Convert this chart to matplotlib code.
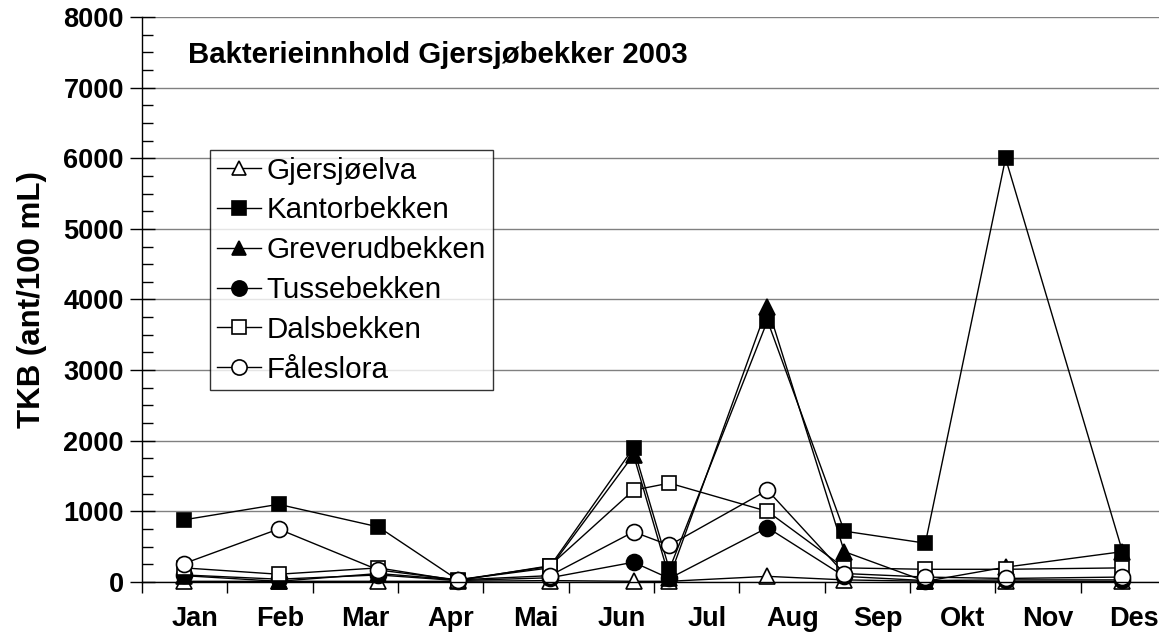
import matplotlib
matplotlib.use("Agg")
import matplotlib.pyplot as plt
import numpy as np

plt.rcParams['font.family'] = ['Liberation Sans', 'DejaVu Sans']

# Sampling positions in month units (0 = start of Jan, 12 = end of Des)
sample_pos = [0.49, 1.60, 2.77, 3.70, 4.78, 5.76, 6.18, 7.33, 8.23, 9.18, 10.12, 11.49]
months = ['Jan', 'Feb', 'Mar', 'Apr', 'Mai', 'Jun', 'Jul', 'Aug', 'Sep', 'Okt', 'Nov', 'Des']

# TKB (ant/100 mL) per stream
gjersjoelva = [10, 10, 10, 10, 20, 10, 10, 80, 30, 10, 10, 10]
kantorbekken = [880, 1100, 780, 30, 220, 1900, 180, 3700, 720, 550, 6000, 430]
greverudbekken = [90, 10, 120, 30, 200, 1800, 60, 3900, 430, 10, 210, 430]
tussebekken = [100, 40, 100, 20, 60, 280, 50, 770, 80, 20, 30, 30]
dalsbekken = [200, 110, 200, 20, 230, 1300, 1400, 1000, 200, 180, 180, 200]
faleslora = [260, 750, 170, 30, 90, 710, 520, 1300, 120, 70, 50, 70]

series = [
    ('Gjersjøelva', gjersjoelva, '^', 'white'),
    ('Kantorbekken', kantorbekken, 's', 'black'),
    ('Greverudbekken', greverudbekken, '^', 'black'),
    ('Tussebekken', tussebekken, 'o', 'black'),
    ('Dalsbekken', dalsbekken, 's', 'white'),
    ('Fåleslora', faleslora, 'o', 'white'),
]

fig = plt.figure(figsize=(11.59, 6.35), dpi=100)
ax = fig.add_axes([142 / 1159, 1 - 582 / 635, 1024 / 1159, 565 / 635])

for name, vals, mk, fc in series:
    ms = {'o': 11.5, 's': 10.5, '^': 11}[mk]
    ax.plot(sample_pos, vals, color='black', lw=1, marker=mk, ms=ms,
            mfc=fc, mec='black', mew=1.2, label=name, clip_on=False)

ax.set_xlim(0, 12)
ax.set_ylim(0, 8000)

# y axis
ax.set_yticks(np.arange(0, 8001, 1000))
ax.set_yticks(np.arange(0, 8001, 250), minor=True)
ax.tick_params(axis='y', which='major', direction='inout', length=18, width=1,
               labelsize=19.5, pad=4)
ax.tick_params(axis='y', which='minor', direction='in', length=8, width=1)
for lab in ax.get_yticklabels():
    lab.set_fontweight('bold')
ax.yaxis.grid(True, which='major', color='#808080', lw=1)
ax.set_axisbelow(True)

# x axis: ticks at month boundaries, labels inside each month
ax.set_xticks(np.arange(0, 13))
ax.set_xticklabels([])
ax.set_xticks(np.arange(12) + 0.62, minor=True)
ax.set_xticklabels(months, minor=True, fontsize=19.5, fontweight='bold')
ax.tick_params(axis='x', which='major', direction='out', length=8, width=1)
ax.tick_params(axis='x', which='minor', length=0, pad=17)

for s in ['top', 'right']:
    ax.spines[s].set_visible(False)
ax.spines['left'].set_linewidth(1)
ax.spines['bottom'].set_linewidth(1)

ax.set_ylabel('TKB (ant/100 mL)', fontsize=22.5, fontweight='bold', labelpad=12)

fig.text(188 / 1159, 1 - 55 / 635, 'Bakterieinnhold Gjersjøbekker 2003',
         fontsize=21.2, fontweight='bold', va='center', ha='left')

leg = ax.legend(loc='upper left', bbox_to_anchor=(210 / 1159, 1 - 150 / 635),
                bbox_transform=fig.transFigure, fontsize=21.3, frameon=True,
                fancybox=False, edgecolor='black', borderaxespad=0,
                handlelength=1.5, handletextpad=0.2, labelspacing=0.4,
                borderpad=0.22, markerscale=0.95)
leg.get_frame().set_linewidth(1)

fig.savefig('out.png', dpi=100)
